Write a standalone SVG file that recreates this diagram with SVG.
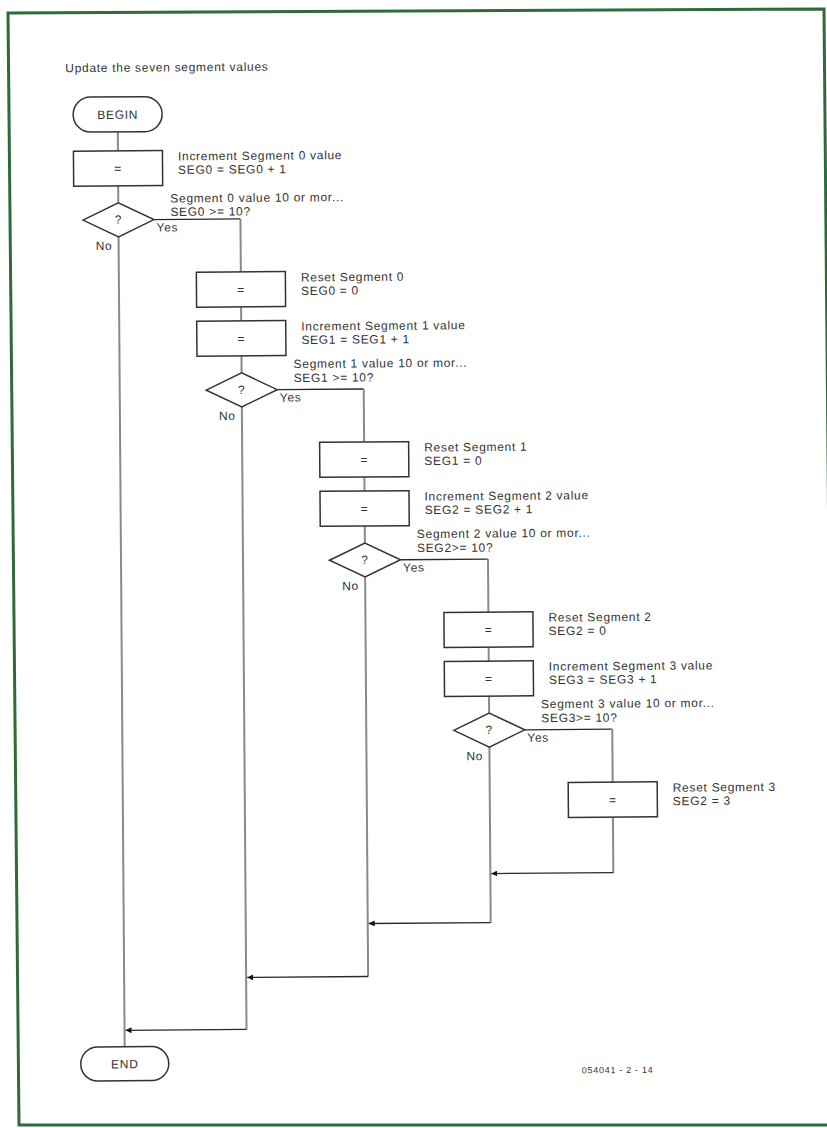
<svg xmlns="http://www.w3.org/2000/svg" width="827" height="1128" viewBox="0 0 827 1128">
<style>
text{font-family:"Liberation Sans",Arial,sans-serif;font-size:12px;letter-spacing:0.7px;fill:#333}
.c{text-anchor:middle}
.box{fill:#fff;stroke:#333;stroke-width:1.5}
.v{fill:none;stroke:#8a8a8a;stroke-width:2}
.h{fill:none;stroke:#2a2a2a;stroke-width:1.3}
.code{font-size:9px;letter-spacing:0.7px}
</style>
<defs>
<marker id="arr" markerUnits="userSpaceOnUse" markerWidth="6" markerHeight="6" refX="6" refY="3" orient="auto">
<path d="M0,0 L6,3 L0,6 z" fill="#111"/>
</marker>
</defs>
<rect width="827" height="1128" fill="#fff"/>
<path d="M19,1125 L8,13 L824,9 L834,1125 Z" fill="none" stroke="#2e6b3c" stroke-width="3"/>
<g transform="rotate(-0.43 365 560)">
<text x="69" y="70">Update the seven segment values</text>
<g id="connectors">
<path class="v" d="M121,130 V149"/>
<path class="v" d="M121,184 V201"/>
<path class="h" d="M156.5,218 H243"/>
<path class="v" d="M243,218 V271"/>
<path class="v" d="M121,235 V1045"/>
<path class="v" d="M243,306 V320"/>
<path class="v" d="M243,355 V372"/>
<path class="h" d="M278.5,389 H365"/>
<path class="v" d="M365,389 V442"/>
<path class="v" d="M243,406 V1028.5"/>
<path class="h" d="M243,1028.5 H122" marker-end="url(#arr)"/>
<path class="v" d="M365,477 V491"/>
<path class="v" d="M365,526 V543"/>
<path class="h" d="M400.5,560 H488"/>
<path class="v" d="M488,560 V613"/>
<path class="v" d="M365,577 V976.5"/>
<path class="h" d="M365,976.5 H244" marker-end="url(#arr)"/>
<path class="v" d="M488,648 V662"/>
<path class="v" d="M488,697 V714"/>
<path class="h" d="M523.5,731 H611"/>
<path class="v" d="M611,731 V784"/>
<path class="v" d="M488,748 V923.5"/>
<path class="h" d="M488,923.5 H366" marker-end="url(#arr)"/>
<path class="v" d="M611,819 V874.5"/>
<path class="h" d="M611,874.5 H489" marker-end="url(#arr)"/>
</g>
<g id="begin">
<rect class="box" x="76.5" y="95" width="89" height="35" rx="17.5"/>
<text class="c" x="121" y="117">BEGIN</text>
</g>
<g id="inc0">
<rect class="box" x="76.5" y="149" width="89" height="35"/>
<text class="c" x="121" y="171">=</text>
<text x="181" y="159">Increment Segment 0 value</text>
<text x="181" y="172.5">SEG0 = SEG0 + 1</text>
</g>
<g id="dec0">
<polygon class="box" points="85.5,218 121,201 156.5,218 121,235"/>
<text class="c" x="121" y="222">?</text>
<text x="173" y="201">Segment 0 value 10 or mor...</text>
<text x="173" y="214.5">SEG0 &gt;= 10?</text>
<text x="159" y="230">Yes</text>
<text x="98" y="248">No</text>
</g>
<g id="reset1">
<rect class="box" x="198.5" y="271" width="89" height="35"/>
<text class="c" x="243" y="293">=</text>
<text x="303" y="281">Reset Segment 0</text>
<text x="303" y="294.5">SEG0 = 0</text>
</g>
<g id="inc1">
<rect class="box" x="198.5" y="320" width="89" height="35"/>
<text class="c" x="243" y="342">=</text>
<text x="303" y="330">Increment Segment 1 value</text>
<text x="303" y="343.5">SEG1 = SEG1 + 1</text>
</g>
<g id="dec1">
<polygon class="box" points="207.5,389 243,372 278.5,389 243,406"/>
<text class="c" x="243" y="393">?</text>
<text x="295" y="367.5">Segment 1 value 10 or mor...</text>
<text x="295" y="381.5">SEG1 &gt;= 10?</text>
<text x="281" y="401">Yes</text>
<text x="220" y="419">No</text>
</g>
<g id="reset2">
<rect class="box" x="320.5" y="442" width="89" height="35"/>
<text class="c" x="365" y="464">=</text>
<text x="425" y="452">Reset Segment 1</text>
<text x="425" y="465.5">SEG1 = 0</text>
</g>
<g id="inc2">
<rect class="box" x="320.5" y="491" width="89" height="35"/>
<text class="c" x="365" y="513">=</text>
<text x="425" y="501">Increment Segment 2 value</text>
<text x="425" y="514.5">SEG2 = SEG2 + 1</text>
</g>
<g id="dec2">
<polygon class="box" points="329.5,560 365,543 400.5,560 365,577"/>
<text class="c" x="365" y="564">?</text>
<text x="417" y="538.5">Segment 2 value 10 or mor...</text>
<text x="417" y="552.5">SEG2&gt;= 10?</text>
<text x="403" y="572">Yes</text>
<text x="342" y="590">No</text>
</g>
<g id="reset3">
<rect class="box" x="443.5" y="613" width="89" height="35"/>
<text class="c" x="488" y="635">=</text>
<text x="548" y="623">Reset Segment 2</text>
<text x="548" y="636.5">SEG2 = 0</text>
</g>
<g id="inc3">
<rect class="box" x="443.5" y="662" width="89" height="35"/>
<text class="c" x="488" y="684">=</text>
<text x="548" y="672">Increment Segment 3 value</text>
<text x="548" y="685.5">SEG3 = SEG3 + 1</text>
</g>
<g id="dec3">
<polygon class="box" points="452.5,731 488,714 523.5,731 488,748"/>
<text class="c" x="488" y="735">?</text>
<text x="540" y="709.5">Segment 3 value 10 or mor...</text>
<text x="540" y="723.5">SEG3&gt;= 10?</text>
<text x="526" y="743">Yes</text>
<text x="465" y="761">No</text>
</g>
<g id="reset4">
<rect class="box" x="566.5" y="784" width="89" height="35"/>
<text class="c" x="611" y="806">=</text>
<text x="671" y="794">Reset Segment 3</text>
<text x="671" y="807.5">SEG2 = 3</text>
</g>
<g id="end">
<rect class="box" x="77" y="1045" width="88" height="34" rx="17"/>
<text class="c" x="121" y="1066.5">END</text>
</g>
<text class="code" x="578" y="1075">054041 - 2 - 14</text>
</g>
</svg>
